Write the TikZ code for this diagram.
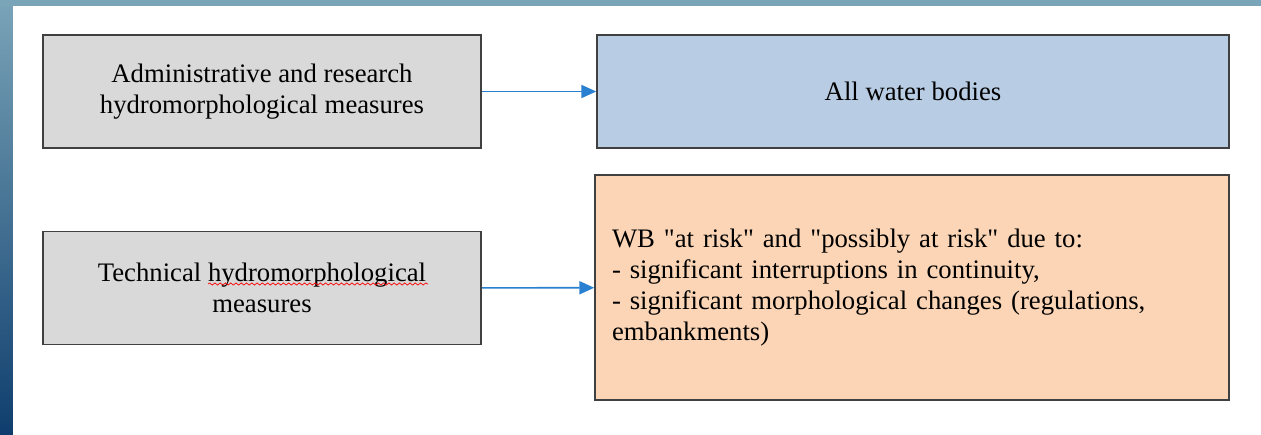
\documentclass[tikz,border=0pt]{standalone}
\usepackage{fontspec}
\setmainfont{Liberation Serif}
\usetikzlibrary{positioning,calc}
\usetikzlibrary{arrows.meta,decorations.pathmorphing}

\definecolor{framelight}{HTML}{7AA4B8}
\definecolor{framedark}{HTML}{0F3E6E}
\definecolor{greybox}{HTML}{D9D9D9}
\definecolor{bluebox}{HTML}{B8CCE4}
\definecolor{peachbox}{HTML}{FBD5B5}
\definecolor{arrowblue}{HTML}{2A80D0}

\tikzset{
  measure/.style={draw=black!75, line width=0.9pt, fill=greybox, minimum width=8.76cm,
    minimum height=2.26cm, align=center},
  target/.style={draw=black!75, line width=0.9pt, minimum width=12.64cm},
  link/.style={draw=arrowblue, line width=0.9pt, -{Triangle[length=8.5pt,width=7.5pt]}}
}

\begin{document}
\begin{tikzpicture}[font=\fontsize{15.2}{17.8}\selectfont]
  % page size and frame
  \useasboundingbox (0,0) rectangle (25.22,8.68);
  \shade[top color=framelight, bottom color=framedark] (0,0) rectangle (0.26,8.68);
  \fill[framelight] (0,8.56) rectangle (25.22,8.68);

  % Measures
  \node[measure] (admin) at (5.24,6.85) {Administrative and research\\hydromorphological measures};
  \node[measure] (tech) at (5.24,2.92) {Technical hydromorphological\\measures};

  % Water bodies
  \node[target, fill=bluebox, minimum height=2.26cm] (all) at (18.26,6.85) {All water bodies};
  \node[target, fill=peachbox, minimum width=12.68cm, minimum height=4.5cm,
        text width=12.0cm, align=left] (risk) at (18.24,2.93)
    {WB \textquotedbl at risk\textquotedbl{} and \textquotedbl possibly at risk\textquotedbl{} due to:\\
     - significant interruptions in continuity,\\
     - significant morphological changes (regulations,\\
     embankments)};

  % Arrows
  \draw[link] (admin) -- (all);
  \draw[link] (tech) -- (risk);

  % spell check mark
  \draw[red, line width=0.4pt, decorate, decoration={snake, amplitude=0.6pt, segment length=3pt}]
    ($(tech.center)+(-1.08,0.08)$) -- ($(tech.center)+(3.32,0.08)$);
\end{tikzpicture}
\end{document}
